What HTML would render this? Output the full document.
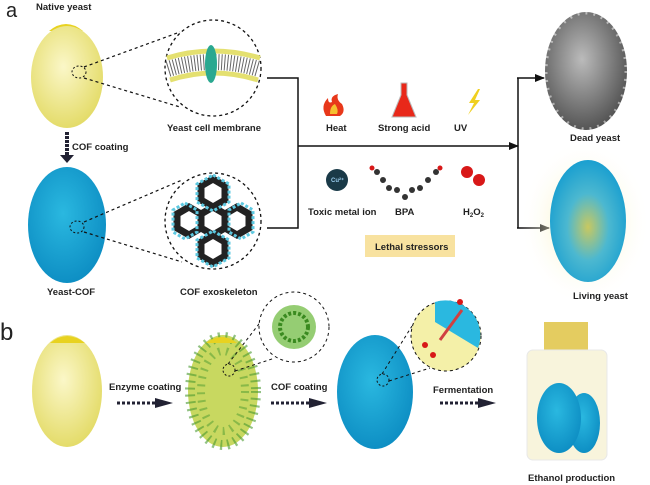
<!DOCTYPE html>
<html><head><style>
body{margin:0;width:650px;height:485px;background:#fff;overflow:hidden;font-family:"Liberation Sans",sans-serif}
svg{display:block}
text{font-family:"Liberation Sans",sans-serif;font-weight:bold;font-size:9.5px;fill:#222}
</style></head><body>
<svg width="650" height="485" viewBox="0 0 650 485">
<defs>
<radialGradient id="yel" cx="45%" cy="40%" r="60%"><stop offset="0" stop-color="#fbf7c8"/><stop offset="1" stop-color="#e4dc6a"/></radialGradient>
<radialGradient id="blu" cx="45%" cy="40%" r="60%"><stop offset="0" stop-color="#2ab8e0"/><stop offset="1" stop-color="#0e8fc4"/></radialGradient>
<radialGradient id="liv" cx="50%" cy="55%" r="55%"><stop offset="0" stop-color="#c8c860"/><stop offset="0.5" stop-color="#4cb8d0"/><stop offset="1" stop-color="#1a9fd0"/></radialGradient>
<radialGradient id="glow" cx="50%" cy="50%" r="50%"><stop offset="0" stop-color="#f5eca0"/><stop offset="1" stop-color="#fff" stop-opacity="0"/></radialGradient>
<radialGradient id="dead" cx="45%" cy="40%" r="60%"><stop offset="0" stop-color="#bbb"/><stop offset="1" stop-color="#555"/></radialGradient>
<marker id="ar" markerWidth="10" markerHeight="8" refX="9" refY="4" orient="auto" markerUnits="userSpaceOnUse"><path d="M0,0 L10,4 L0,8z" fill="#111"/></marker>
</defs>
<text x="6" y="17" style="font-size:20px;font-weight:normal">a</text>
<text x="36" y="10">Native yeast</text>
<path d="M49,31 q17,-14 34,0z" fill="#e8d220"/>
<ellipse cx="67" cy="77" rx="36" ry="51" fill="url(#yel)"/>
<ellipse cx="79" cy="72" rx="7" ry="6" fill="none" stroke="#111" stroke-dasharray="2,2"/>
<line x1="84" y1="67" x2="180" y2="32" stroke="#111" stroke-dasharray="3,3" stroke-width="1.2"/>
<line x1="84" y1="78" x2="180" y2="107" stroke="#111" stroke-dasharray="3,3" stroke-width="1.2"/>
<circle cx="213" cy="68" r="48" fill="#fff" stroke="#111" stroke-dasharray="3,3" stroke-width="1.3"/>
<path d="M167,58 Q213,44 260,58" stroke="#e4e070" stroke-width="5" fill="none"/>
<path d="M170,80 Q213,66 258,80" stroke="#e4e070" stroke-width="5" fill="none"/>
<path d="M168,69 Q213,55 259,69" stroke="#666" stroke-width="16" fill="none" stroke-dasharray="1,2"/>
<ellipse cx="211" cy="64" rx="6" ry="19" fill="#2aa890"/>
<text x="167" y="131">Yeast cell membrane</text>
<path d="M67,132 v24" stroke="#223" stroke-width="4" stroke-dasharray="3,1"/>
<path d="M60,155 l7,8 l7,-8z" fill="#223"/>
<text x="72" y="150">COF coating</text>
<ellipse cx="67" cy="225" rx="39" ry="58" fill="url(#blu)"/>
<ellipse cx="77" cy="227" rx="7" ry="6" fill="none" stroke="#111" stroke-dasharray="2,2"/>
<line x1="84" y1="222" x2="182" y2="180" stroke="#111" stroke-dasharray="3,3" stroke-width="1.2"/>
<line x1="84" y1="232" x2="182" y2="262" stroke="#111" stroke-dasharray="3,3" stroke-width="1.2"/>
<circle cx="213" cy="221" r="48" fill="#fff" stroke="#111" stroke-dasharray="3,3" stroke-width="1.3"/>
<g fill="none" stroke="#222" stroke-width="7">
<polygon points="213,207 225,214 225,228 213,235 201,228 201,214"/>
<polygon points="213,179 225,186 225,200 213,207 201,200 201,186"/>
<polygon points="237,207 249,214 249,228 237,235 225,228 225,214"/>
<polygon points="189,207 201,214 201,228 189,235 177,228 177,214"/>
<polygon points="213,235 225,242 225,256 213,263 201,256 201,242"/>
</g>
<g fill="none" stroke="#5cc8e0" stroke-width="3" stroke-dasharray="3,2">
<polygon points="213,175 229,184 229,202 213,211 197,202 197,184"/>
<polygon points="241,203 253,210 253,232 241,239 229,232 229,210"/>
<polygon points="185,203 197,210 197,232 185,239 173,232 173,210"/>
<polygon points="213,231 229,240 229,258 213,267 197,258 197,240"/>
</g>
<text x="47" y="295">Yeast-COF</text>
<text x="180" y="295">COF exoskeleton</text>
<path d="M267,78 H298 V228 H267" fill="none" stroke="#111" stroke-width="1.5"/>
<line x1="298" y1="146" x2="518" y2="146" stroke="#111" stroke-width="1.5" marker-end="url(#ar)"/>
<path d="M518,78 V228" fill="none" stroke="#111" stroke-width="1.5"/>
<line x1="517" y1="78" x2="544" y2="78" stroke="#111" stroke-width="1.5" marker-end="url(#ar)"/>
<line x1="517" y1="228" x2="549" y2="228" stroke="#111" stroke-width="1.5" marker-end="url(#ar)"/>
<path d="M326,116 q-6,-10 2,-18 q0,6 4,4 q-2,-6 6,-8 q-2,6 4,10 q4,8 -2,12z" fill="#e8381a"/>
<path d="M330,114 q0,-8 5,-10 q4,6 2,10z" fill="#f5c030"/>
<path d="M401,83 h6 v12 l9,22 h-24 l9,-22z" fill="#e8281a" stroke="#bbb"/>
<path d="M478,89 l-9,14 h5 l-6,12 l12,-15 h-5 l5,-11z" fill="#f0d020"/>
<text x="326" y="131">Heat</text><text x="378" y="131">Strong acid</text><text x="454" y="131">UV</text>
<circle cx="337" cy="180" r="11" fill="#1a3a48"/><text x="331" y="182" style="font-size:6px;fill:#9ce">Cu²⁺</text>
<g fill="#333"><circle cx="377" cy="172" r="3"/><circle cx="383" cy="180" r="3"/><circle cx="389" cy="188" r="3"/><circle cx="405" cy="197" r="3"/><circle cx="420" cy="188" r="3"/><circle cx="428" cy="180" r="3"/><circle cx="436" cy="172" r="3"/><circle cx="397" cy="190" r="3"/><circle cx="412" cy="190" r="3"/></g>
<circle cx="372" cy="168" r="2.5" fill="#d81818"/><circle cx="440" cy="168" r="2.5" fill="#d81818"/>
<circle cx="467" cy="172" r="6" fill="#d81818"/><circle cx="479" cy="180" r="6" fill="#d81818"/>
<text x="308" y="215">Toxic metal ion</text><text x="395" y="215">BPA</text><text x="463" y="215">H<tspan font-size="6" dy="2">2</tspan><tspan dy="-2">O</tspan><tspan font-size="6" dy="2">2</tspan></text>
<rect x="365" y="235" width="90" height="22" fill="#f8e2a0"/>
<text x="375" y="250">Lethal stressors</text>
<ellipse cx="586" cy="71" rx="41" ry="59" fill="url(#dead)"/>
<ellipse cx="586" cy="71" rx="40" ry="58" fill="none" stroke="#fff" stroke-width="3" stroke-dasharray="2,6" opacity="0.5"/>
<text x="570" y="141">Dead yeast</text>
<rect x="520" y="140" width="130" height="165" fill="url(#glow)"/>
<ellipse cx="588" cy="221" rx="38" ry="61" fill="url(#liv)"/>
<text x="573" y="299">Living yeast</text>
<text x="0" y="340" style="font-size:24px;font-weight:normal">b</text>
<ellipse cx="67" cy="391" rx="35" ry="56" fill="url(#yel)"/>
<path d="M50,343 q17,-14 35,0z" fill="#e8d220"/>
<text x="109" y="390">Enzyme coating</text>
<path d="M117,403 h40" stroke="#223" stroke-width="3" stroke-dasharray="3,2"/><path d="M155,398 l18,5 l-18,5z" fill="#223"/>
<ellipse cx="223" cy="391" rx="35" ry="56" fill="#c8d860"/>
<ellipse cx="223" cy="391" rx="33" ry="54" fill="none" stroke="#4a9a30" stroke-width="10" stroke-dasharray="2,5" opacity="0.6"/>
<ellipse cx="223" cy="391" rx="22" ry="40" fill="none" stroke="#4a9a30" stroke-width="8" stroke-dasharray="2,6" opacity="0.5"/>
<path d="M206,343 q16,-12 31,0z" fill="#e8d220"/>
<circle cx="229" cy="370" r="6" fill="none" stroke="#111" stroke-dasharray="2,2"/>
<line x1="228" y1="364" x2="262" y2="320" stroke="#111" stroke-dasharray="3,3"/>
<line x1="235" y1="371" x2="275" y2="358" stroke="#111" stroke-dasharray="3,3"/>
<circle cx="294" cy="327" r="35" fill="#fff" stroke="#111" stroke-dasharray="3,3"/>
<circle cx="294" cy="327" r="22" fill="#7ac050" opacity="0.8"/>
<circle cx="294" cy="327" r="14" fill="none" stroke="#3a8a20" stroke-width="4" stroke-dasharray="3,2"/>
<text x="271" y="390">COF coating</text>
<path d="M271,403 h40" stroke="#223" stroke-width="3" stroke-dasharray="3,2"/><path d="M309,398 l18,5 l-18,5z" fill="#223"/>
<ellipse cx="375" cy="392" rx="38" ry="57" fill="url(#blu)"/>
<circle cx="383" cy="380" r="6" fill="none" stroke="#111" stroke-dasharray="2,2"/>
<line x1="382" y1="374" x2="412" y2="326" stroke="#111" stroke-dasharray="3,3"/>
<line x1="389" y1="381" x2="430" y2="368" stroke="#111" stroke-dasharray="3,3"/>
<circle cx="446" cy="336" r="35" fill="#f4f0a8" stroke="#111" stroke-dasharray="3,3"/>
<path d="M435,302 A35,35 0 0 1 478,348 L435,322z" fill="#2ab8e0"/>
<line x1="440" y1="340" x2="462" y2="310" stroke="#d04040" stroke-width="3"/>
<circle cx="425" cy="345" r="3" fill="#d81818"/><circle cx="433" cy="355" r="3" fill="#d81818"/><circle cx="460" cy="302" r="3" fill="#d81818"/>
<text x="433" y="393">Fermentation</text>
<path d="M440,403 h38" stroke="#223" stroke-width="3" stroke-dasharray="3,2"/><path d="M478,398 l18,5 l-18,5z" fill="#223"/>
<rect x="544" y="322" width="44" height="28" fill="#e4cc60"/>
<rect x="527" y="350" width="80" height="110" rx="6" fill="#f8f4dc" stroke="#e8e8e8"/>
<ellipse cx="584" cy="423" rx="16" ry="30" fill="url(#blu)"/>
<ellipse cx="559" cy="418" rx="22" ry="35" fill="url(#blu)"/>
<text x="528" y="481">Ethanol production</text>
</svg>
</body></html>
